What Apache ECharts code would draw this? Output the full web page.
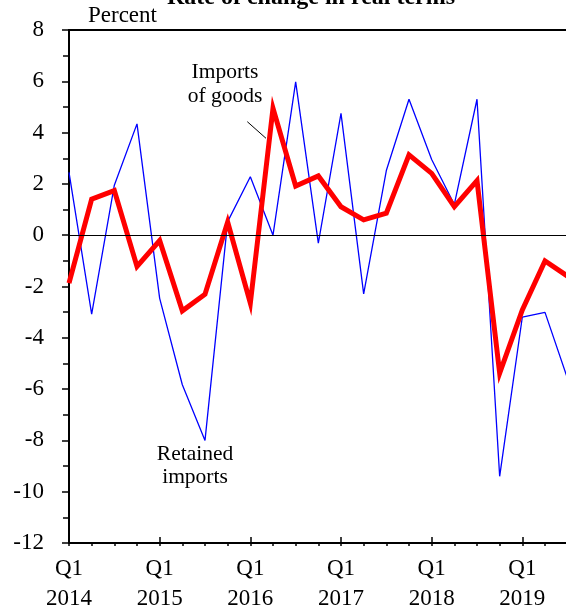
<!DOCTYPE html>
<html>
<head>
<meta charset="utf-8">
<script src="https://cdn.jsdelivr.net/npm/echarts@6/dist/echarts.min.js"></script>
<style>
html,body{margin:0;padding:0;background:#fff;}
#chart{width:566px;height:612px;}
</style>
</head>
<body>
<div id="chart"></div>
<script>
// Quarter categories (index 0 = Q1 2014)
const quarters = [
  'Q1 2014','Q2 2014','Q3 2014','Q4 2014',
  'Q1 2015','Q2 2015','Q3 2015','Q4 2015',
  'Q1 2016','Q2 2016','Q3 2016','Q4 2016',
  'Q1 2017','Q2 2017','Q3 2017','Q4 2017',
  'Q1 2018','Q2 2018','Q3 2018','Q4 2018',
  'Q1 2019','Q2 2019','Q3 2019'
];
// Retained imports, % change (blue, thin)
const retainedImports = [2.45,-3.08,1.95,4.34,-2.46,-5.83,-8.0,0.53,2.28,0.0,5.98,-0.31,4.75,-2.29,2.52,5.3,2.95,1.2,5.3,-9.4,-3.19,-3.01,-5.6];
// Imports of goods, % change (red, thick)
const importsOfGoods = [-1.87,1.41,1.74,-1.22,-0.21,-2.95,-2.3,0.51,-2.65,4.95,1.92,2.31,1.11,0.6,0.86,3.13,2.41,1.11,2.13,-5.38,-2.91,-1.0,-1.6];
// Y tick labels
const yTicks = [-12,-10,-8,-6,-4,-2,0,2,4,6,8];

const FONT = 'Liberation Serif';
const chart = echarts.init(document.getElementById('chart'), null, {renderer:'canvas'});

const xLabel = v => (v % 4 === 0 && quarters[v]) ? quarters[v].replace(' ', '\n') : '';

chart.setOption({
  animation: false,
  backgroundColor: '#fff',
  grid: { left: 69, top: 30, width: 544, height: 513, outerBoundsMode: 'none', containLabel: false,
          show: true, borderColor: '#000', borderWidth: 2, backgroundColor: 'transparent' },
  xAxis: [
    {
      type: 'value', min: 0, max: 24, interval: 4, position: 'bottom',
      axisLine: { show: true, onZero: false, lineStyle: { color: '#000', width: 2 } },
      axisTick: { show: true, inside: false, length: 3, lineStyle: { color: '#000', width: 1.5 } },
      minorTick: { show: true, splitNumber: 4, length: 3, lineStyle: { color: '#000', width: 1.5 } },
      splitLine: { show: false },
      axisLabel: { formatter: xLabel, color: '#000', fontFamily: FONT, fontSize: 23, lineHeight: 30, margin: 11 }
    },
    {
      type: 'value', min: 0, max: 24, interval: 4, position: 'bottom',
      axisLine: { show: false, onZero: false },
      axisTick: { show: true, inside: true, length: 6, lineStyle: { color: '#000', width: 1.5 } },
      splitLine: { show: false },
      axisLabel: { show: false }
    }
  ],
  yAxis: {
    type: 'value', min: yTicks[0], max: yTicks[yTicks.length-1], interval: 2,
    axisLine: { show: true, onZero: false, lineStyle: { color: '#000', width: 2 } },
    axisTick: { show: true, length: 7, lineStyle: { color: '#000', width: 1.5 } },
    minorTick: { show: true, splitNumber: 2, length: 6, lineStyle: { color: '#000', width: 1.5 } },
    splitLine: { show: false },
    axisLabel: { color: '#000', fontFamily: FONT, fontSize: 23, margin: 25,
      formatter: v => yTicks.indexOf(v) >= 0 ? String(v) : '' }
  },
  series: [
    {
      name: 'Retained imports', type: 'line', xAxisIndex: 0,
      data: retainedImports.map((v, i) => [i, v]),
      showSymbol: false, symbol: 'none',
      lineStyle: { color: '#0000ff', width: 1.3 },
      markLine: {
        silent: true, symbol: 'none', animation: false,
        label: { show: false },
        lineStyle: { color: '#000', width: 1, type: 'solid' },
        data: [{ yAxis: 0 }]
      },
      z: 2
    },
    {
      name: 'Imports of goods', type: 'line', xAxisIndex: 0,
      data: importsOfGoods.map((v, i) => [i, v]),
      showSymbol: false, symbol: 'none',
      lineStyle: { color: '#ff0000', width: 5, join: 'miter' },
      z: 3
    }
  ],
  graphic: [
    { type: 'text', x: 311, y: -2.5, style: { text: 'Rate of change in real terms', fill: '#000', font: 'bold 24px "Liberation Serif"', textAlign: 'center', textVerticalAlign: 'middle' } },
    { type: 'text', x: 88, y: 16, style: { text: 'Percent', fill: '#000', font: '23px "Liberation Serif"', textAlign: 'left', textVerticalAlign: 'middle' } },
    { type: 'text', x: 225, y: 60, style: { text: 'Imports\nof goods', fill: '#000', font: '21.5px "Liberation Serif"', lineHeight: 24.4, textAlign: 'center', textVerticalAlign: 'top' } },
    { type: 'text', x: 195, y: 443, style: { text: 'Retained\nimports', fill: '#000', font: '21.5px "Liberation Serif"', lineHeight: 23, textAlign: 'center', textVerticalAlign: 'top' } },
    { type: 'line', shape: { x1: 247.3, y1: 121.7, x2: 266, y2: 138.3 }, style: { stroke: '#000', lineWidth: 1 } }
  ]
});
</script>
</body>
</html>
